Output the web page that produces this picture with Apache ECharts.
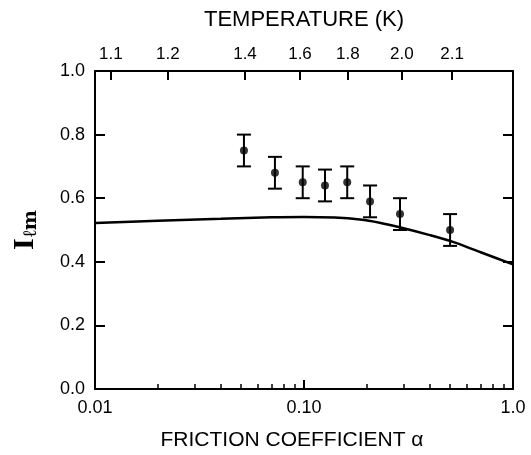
<!DOCTYPE html>
<html>
<head>
<meta charset="utf-8">
<script src="https://cdn.jsdelivr.net/npm/echarts@6/dist/echarts.min.js"></script>
<style>html,body{margin:0;padding:0;background:#fff}#c{width:531px;height:455px}</style>
</head>
<body>
<div id="c"></div>
<script>
// Measured points: friction coefficient alpha, I_lm, error
const pointAlpha = [0.0516, 0.0726, 0.0986, 0.126, 0.161, 0.207, 0.288, 0.500];
const pointValue = [0.75, 0.68, 0.65, 0.64, 0.65, 0.59, 0.55, 0.50];
const pointError = [0.05, 0.05, 0.05, 0.05, 0.05, 0.05, 0.05, 0.05];

// Theory curve
const curveAlpha = [0.01, 0.02, 0.04, 0.07, 0.10, 0.14, 0.185, 0.23, 0.29, 0.40, 0.52, 0.70, 1.0];
const curveValue = [0.522, 0.529, 0.535, 0.540, 0.541, 0.539, 0.533, 0.523, 0.508, 0.484, 0.462, 0.430, 0.392];

// Top axis: temperature labels and the alpha they sit at
const tempLabels = ['1.1', '1.2', '1.4', '1.6', '1.8', '2.0', '2.1'];
const tempAlpha = [0.0119, 0.0223, 0.0522, 0.0957, 0.162, 0.294, 0.511];

// Bottom axis ticks
const majorAlpha = [0.01, 0.1, 1.0];
const majorLabels = ['0.01', '0.10', '1.0'];
const minorAlpha = [0.02, 0.03, 0.04, 0.05, 0.06, 0.07, 0.08, 0.09, 0.2, 0.3, 0.4, 0.5, 0.6, 0.7, 0.8, 0.9];

const FONT = '"Liberation Sans", Arial, sans-serif';
const lineStyle = { color: '#000', width: 2 };

const chart = echarts.init(document.getElementById('c'));
const log10 = v => Math.log10(v);

chart.setOption({
  animation: false,
  backgroundColor: '#fff',
  grid: { left: 95, right: 18, top: 71, bottom: 66, containLabel: false, outerBoundsMode: 'none' },
  xAxis: [
    {
      type: 'log', logBase: 10, min: 0.01, max: 1, position: 'bottom', gridIndex: 0,
      axisLine: { show: true, onZero: false, lineStyle },
      axisTick: { show: true, inside: true, length: 9, lineStyle },
      minorTick: { show: false },
      splitLine: { show: false },
      axisLabel: {
        color: '#000', fontFamily: FONT, fontSize: 18, margin: 10,
        formatter: v => { const i = majorAlpha.findIndex(a => Math.abs(a - v) < 1e-9); return i >= 0 ? majorLabels[i] : ''; }
      },
      name: 'FRICTION COEFFICIENT α', nameLocation: 'middle', nameGap: 41,
      nameTextStyle: { color: '#000', fontFamily: FONT, fontSize: 21, padding: [0, 24, 0, 0] }
    },
    {
      type: 'value', min: -2, max: 0, position: 'top', gridIndex: 0,
      axisLine: { show: true, onZero: false, lineStyle },
      axisTick: { show: true, inside: true, length: 9, lineStyle, customValues: tempAlpha.map(log10) },
      splitLine: { show: false },
      axisLabel: {
        color: '#000', fontFamily: FONT, fontSize: 17, margin: 8,
        customValues: tempAlpha.map(log10),
        formatter: v => { let best = 0, d = 1e9; tempAlpha.forEach((a, i) => { const dd = Math.abs(log10(a) - v); if (dd < d) { d = dd; best = i; } }); return tempLabels[best]; }
      },
      name: 'TEMPERATURE (K)', nameLocation: 'middle', nameGap: 40,
      nameTextStyle: { color: '#000', fontFamily: FONT, fontSize: 22 }
    },
    {
      type: 'value', min: -2, max: 0, position: 'bottom', offset: 0, gridIndex: 0,
      axisLine: { show: false, onZero: false },
      axisTick: { show: true, inside: true, length: 5, lineStyle: { color: '#000', width: 1.5 }, customValues: minorAlpha.map(log10) },
      splitLine: { show: false },
      axisLabel: { show: false }
    }
  ],
  yAxis: [
    {
      type: 'value', min: 0, max: 1, interval: 0.2, position: 'left', gridIndex: 0,
      axisLine: { show: true, onZero: false, lineStyle },
      axisTick: { show: true, inside: true, length: 10, lineStyle },
      splitLine: { show: false },
      axisLabel: { color: '#000', fontFamily: FONT, fontSize: 18, margin: 10, formatter: v => v.toFixed(1) },
      name: '{i|I}{s|ℓm}', nameLocation: 'middle', nameGap: 54, nameRotate: 90,
      nameTextStyle: {
        rich: {
          i: { fontFamily: '"Liberation Serif", "DejaVu Serif", serif', fontWeight: 'bold', fontSize: 30, color: '#000' },
          s: { fontFamily: '"DejaVu Serif", "Liberation Serif", serif', fontWeight: 'bold', fontSize: 19, color: '#000', padding: [12, 0, 0, 1] }
        }
      }
    },
    {
      type: 'value', min: 0, max: 1, interval: 0.2, position: 'right', gridIndex: 0,
      axisLine: { show: true, onZero: false, lineStyle },
      axisTick: { show: true, inside: true, length: 10, lineStyle },
      splitLine: { show: false },
      axisLabel: { show: false }
    }
  ],
  series: [
    {
      type: 'line', xAxisIndex: 0, yAxisIndex: 0, smooth: 0.3, showSymbol: false, symbol: 'none',
      lineStyle: { color: '#000', width: 2.5 },
      data: curveAlpha.map((a, i) => [a, curveValue[i]]),
      z: 3
    },
    {
      type: 'custom', xAxisIndex: 0, yAxisIndex: 0,
      data: pointAlpha.map((a, i) => [a, pointValue[i], pointError[i]]),
      encode: { x: 0, y: 1 },
      renderItem: (params, api) => {
        const x = api.value(0), y = api.value(1), e = api.value(2);
        const hi = api.coord([x, y + e]);
        const lo = api.coord([x, y - e]);
        const w = 7;
        const st = { stroke: '#000', lineWidth: 2 };
        return {
          type: 'group',
          children: [
            { type: 'line', shape: { x1: hi[0], y1: hi[1], x2: lo[0], y2: lo[1] }, style: st },
            { type: 'line', shape: { x1: hi[0] - w, y1: hi[1], x2: hi[0] + w, y2: hi[1] }, style: st },
            { type: 'line', shape: { x1: lo[0] - w, y1: lo[1], x2: lo[0] + w, y2: lo[1] }, style: st }
          ]
        };
      },
      z: 4
    },
    {
      type: 'scatter', xAxisIndex: 0, yAxisIndex: 0, symbol: 'circle', symbolSize: 8,
      itemStyle: { color: '#000' },
      data: pointAlpha.map((a, i) => [a, pointValue[i]]),
      z: 5
    }
  ]
});
</script>
</body>
</html>
